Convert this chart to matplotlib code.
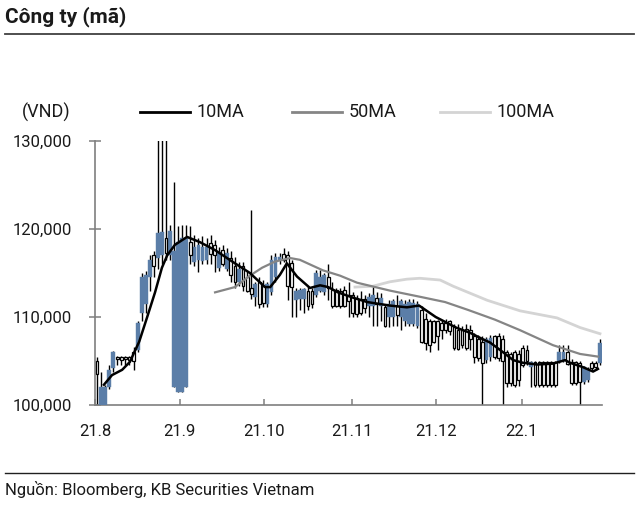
import matplotlib
matplotlib.use("Agg")
import matplotlib.pyplot as plt
from matplotlib.lines import Line2D
from matplotlib.ticker import FuncFormatter
import numpy as np

plt.rcParams['font.family'] = ['Roboto', 'DejaVu Sans']

# ---------------- data (prices in thousand VND) ----------------
opens = [105.0, 100.0, 100.0, 102.0, 104.2, 105.5, 105.4, 105.5, 105.4, 106.0,
         106.3, 110.5, 111.5, 114.5, 117.0, 116.7, 117.0, 119.0, 117.0, 102.0,
         101.5, 101.5, 102.0, 118.5, 116.3, 116.5, 116.4, 116.5, 118.4, 118.2,
         115.6, 117.6, 115.5, 116.7, 115.8, 114.0, 115.8, 114.5, 113.3, 112.3,
         114.0, 113.5, 111.5, 112.8, 114.5, 116.5, 117.2, 117.0, 116.1, 111.9,
         112.0, 112.0, 113.0, 113.0, 112.5, 113.0, 112.8, 114.5, 113.1, 113.1,
         113.0, 113.1, 112.5, 112.5, 112.2, 112.0, 112.0, 111.3, 111.2, 112.2,
         111.2, 111.1, 110.0, 110.0, 111.2, 110.0, 109.5, 109.2, 109.2, 109.0,
         110.8, 109.8, 109.5, 109.5, 109.5, 109.3, 109.3, 109.5, 109.0, 108.5,
         108.5, 108.6, 108.5, 107.8, 107.5, 107.2, 105.1, 105.5, 107.8, 107.8,
         107.5, 106.0, 105.8, 106.0, 105.8, 106.5, 106.3, 104.3, 104.9, 104.9,
         104.9, 104.9, 104.9, 104.9, 104.9, 105.0, 106.0, 104.9, 104.9, 104.8,
         102.6, 102.8, 104.8, 104.8, 104.8]
highs = [105.5, 103.8, 102.3, 104.5, 106.1, 105.6, 105.6, 105.6, 105.6, 106.6,
         109.5, 115.0, 115.2, 117.0, 117.5, 131.0, 131.0, 131.0, 120.5, 125.3,
         120.3, 120.5, 120.5, 120.3, 119.3, 119.0, 119.2, 119.0, 119.3, 118.8,
         118.0, 118.2, 117.8, 117.5, 116.8, 116.2, 116.3, 115.2, 122.2, 114.0,
         114.5, 114.2, 114.0, 117.0, 117.3, 117.3, 117.8, 117.5, 116.5, 113.3,
         113.3, 113.3, 113.5, 113.3, 115.3, 115.3, 115.0, 116.0, 114.0, 113.3,
         113.3, 113.5, 114.0, 112.8, 112.5, 113.0, 112.5, 112.7, 113.5, 112.8,
         112.7, 111.5, 111.9, 112.0, 112.5, 112.0, 111.9, 112.0, 112.0, 111.8,
         111.2, 110.5, 109.8, 109.7, 109.7, 109.7, 109.8, 109.7, 109.2, 109.2,
         109.0, 109.2, 109.1, 108.2, 108.0, 107.8, 107.7, 108.0, 108.0, 108.2,
         108.0, 106.2, 106.0, 106.2, 106.2, 106.8, 106.8, 105.0, 105.0, 105.0,
         105.0, 105.0, 105.0, 105.0, 106.8, 106.8, 106.8, 105.2, 105.0, 105.0,
         104.4, 104.3, 105.0, 105.0, 107.5]
lows = [100.0, 99.8, 99.8, 101.8, 103.8, 104.5, 104.5, 104.6, 104.5, 104.0,
        106.0, 109.5, 110.5, 113.0, 114.5, 115.5, 116.0, 116.5, 116.5, 102.0,
        101.5, 101.5, 102.0, 116.0, 115.8, 115.1, 116.0, 116.0, 116.0, 115.1,
        115.2, 115.8, 115.2, 114.0, 113.3, 113.5, 113.0, 112.8, 112.0, 111.3,
        111.0, 111.1, 111.1, 112.5, 114.0, 116.0, 116.3, 111.9, 110.0, 110.0,
        110.8, 110.5, 110.8, 111.0, 112.3, 112.8, 112.5, 111.9, 111.0, 111.1,
        111.0, 111.1, 110.0, 110.0, 110.0, 110.2, 110.5, 110.0, 109.0, 109.0,
        109.5, 108.9, 108.9, 109.0, 109.0, 108.5, 109.0, 109.0, 109.0, 108.8,
        107.0, 106.2, 106.0, 107.0, 106.2, 107.5, 108.2, 108.0, 106.2, 106.2,
        106.5, 106.2, 106.2, 104.8, 105.0, 99.5, 104.8, 105.0, 105.2, 105.0,
        99.5, 102.0, 102.2, 102.0, 102.2, 104.3, 104.5, 102.0, 102.0, 102.0,
        102.0, 102.0, 102.0, 102.0, 104.8, 104.9, 104.5, 102.3, 102.3, 99.5,
        102.4, 102.6, 104.0, 104.0, 104.5]
closes = [103.5, 102.0, 102.0, 104.0, 106.0, 105.2, 105.1, 105.2, 105.1, 105.0,
          109.3, 114.5, 114.8, 116.5, 115.8, 119.5, 119.7, 117.3, 119.8, 117.5,
          118.5, 119.0, 119.0, 117.0, 118.0, 118.2, 117.9, 118.0, 117.2, 117.0,
          117.4, 116.0, 117.3, 114.8, 114.0, 115.5, 113.5, 113.0, 112.6, 113.8,
          111.5, 111.6, 113.8, 116.5, 116.8, 116.8, 116.5, 113.5, 113.4, 113.0,
          113.1, 113.2, 111.2, 111.5, 115.0, 114.5, 114.8, 113.3, 111.2, 111.2,
          111.2, 111.3, 111.8, 110.5, 110.3, 110.5, 111.0, 112.3, 112.5, 111.5,
          112.2, 109.0, 111.5, 111.8, 110.2, 111.8, 111.5, 111.7, 111.6, 111.5,
          107.2, 107.0, 106.8, 107.2, 107.8, 108.5, 108.5, 108.4, 106.5, 106.4,
          106.8, 106.5, 107.5, 105.5, 105.3, 104.8, 107.5, 107.6, 105.5, 105.3,
          105.0, 102.5, 102.5, 102.3, 102.8, 104.5, 105.0, 104.9, 102.3, 102.3,
          102.3, 102.3, 102.3, 102.3, 106.0, 106.0, 104.7, 102.5, 102.5, 102.6,
          104.3, 104.0, 104.2, 104.3, 107.0]

ma10_day = [1.7, 3.7, 6.2, 8.1, 10.4, 12.3, 14.3, 16.0, 17.3, 19.2, 22.2, 25.4,
            29.1, 34.0, 37.7, 41.4, 42.7, 45.1, 46.8, 49.3, 52.5, 55.0, 57.0,
            59.4, 63.1, 66.6, 72.2, 76.4, 79.4, 83.5, 88.5, 92.0, 95.0, 96.9,
            100.1, 102.6, 105.0, 108.5, 112.4, 115.4, 116.6, 119.8, 122.3, 123.5]
ma10_val = [102.3, 103.4, 104.0, 104.9, 107.2, 109.9, 112.8, 115.6, 117.0,
            118.2, 119.1, 118.5, 117.6, 116.1, 115.0, 113.4, 113.4, 114.8,
            116.1, 114.6, 113.3, 113.6, 113.4, 112.8, 112.2, 111.7, 111.3,
            111.1, 111.3, 110.0, 108.8, 108.2, 107.5, 107.1, 106.0, 105.1,
            104.8, 104.6, 104.7, 105.1, 104.8, 104.3, 103.8, 104.1]

ma50_day = [29.1, 34.0, 37.7, 40.7, 43.9, 47.6, 50.0, 55.7, 59.9, 64.1, 72.2,
            79.6, 85.8, 91.5, 98.1, 104.3, 112.4, 119.1, 123.5]
ma50_val = [112.8, 113.4, 114.7, 115.6, 116.3, 116.7, 116.5, 115.3, 114.7,
            113.9, 113.0, 112.3, 111.7, 110.8, 109.7, 108.5, 106.8, 105.8, 105.5]

ma100_day = [63.6, 68.0, 72.2, 76.4, 79.6, 84.6, 87.8, 96.2, 104.3, 113.4,
             119.1, 124.0]
ma100_val = [113.4, 113.5, 114.0, 114.3, 114.4, 114.2, 113.5, 111.9, 110.7,
             109.9, 108.8, 108.1]

tick_pos = [-0.5, 20.4, 41.1, 62.8, 83.5, 104.7]
tick_labels = ['21.8', '21.9', '21.10', '21.11', '21.12', '22.1']
y_ticks = [100, 110, 120, 130]

BLUE = '#5b7ea8'

# ---------------- figure ----------------
W, H = 640, 505
fig = plt.figure(figsize=(W / 100, H / 100), dpi=100)

def fx(px):
    return px / W

def fy(py):
    return 1 - py / H

ax = fig.add_axes([fx(95), fy(405), fx(602) - fx(95), fy(141) - fy(405)])

o = np.array(opens); h = np.array(highs); l = np.array(lows); c = np.array(closes)
x = np.arange(len(o))
up = c >= o

ax.vlines(x, l, h, color='black', lw=1.0, zorder=2)
bot = np.minimum(o, c)
hgt = np.abs(c - o)
ax.bar(x[up], hgt[up], bottom=bot[up], width=0.95, color=BLUE,
       edgecolor=BLUE, lw=0.3, zorder=3)
ax.bar(x[~up], hgt[~up], bottom=bot[~up], width=0.7, color='white',
       edgecolor='black', lw=0.9, zorder=3)

ax.plot(ma100_day, ma100_val, color='#d4d4d4', lw=2.0, zorder=4)
ax.plot(ma50_day, ma50_val, color='#858585', lw=1.6, zorder=4)
ax.plot(ma10_day, ma10_val, color='black', lw=1.8, zorder=5)

ax.set_xlim(-0.5, 124.5)
ax.set_ylim(100, 130)
ax.set_yticks(y_ticks)
ax.yaxis.set_major_formatter(FuncFormatter(lambda v, p: f"{int(round(v * 1000)):,}"))
ax.set_xticks(tick_pos)
ax.set_xticklabels(tick_labels)

for s in ['top', 'right']:
    ax.spines[s].set_visible(False)
for s in ['left', 'bottom']:
    ax.spines[s].set_color('#7f7f7f')
    ax.spines[s].set_linewidth(1.2)

ax.tick_params(axis='y', direction='inout', length=9, width=1.1, color='#7f7f7f',
               labelsize=12, pad=12, labelcolor='#1a1a1a')
ax.tick_params(axis='x', direction='in', length=4, width=1.1, color='#7f7f7f',
               labelsize=12, pad=14, labelcolor='#1a1a1a')

# title and rules
fig.text(fx(5), fy(17), 'Công ty (mã)', fontsize=15, fontweight='bold',
         ha='left', va='center', color='#1a1a1a')
fig.add_artist(Line2D([fx(5), fx(634)], [fy(34), fy(34)], color='#404040', lw=1.3))
fig.add_artist(Line2D([fx(5), fx(634)], [fy(473), fy(473)], color='#202020', lw=1.0))
fig.text(fx(5), fy(489), 'Nguồn: Bloomberg, KB Securities Vietnam', fontsize=12,
         ha='left', va='center', color='#1a1a1a')

# unit label and legend
fig.text(fx(22), fy(112), '(VND)', fontsize=13, ha='left', va='center', color='#1a1a1a')
legend_items = [('10MA', 'black', 140), ('50MA', '#858585', 292), ('100MA', '#d4d4d4', 440)]
for name, col, x0 in legend_items:
    fig.add_artist(Line2D([fx(x0), fx(x0 + 50)], [fy(112), fy(112)], color=col, lw=2))
    fig.text(fx(x0 + 57), fy(112), name, fontsize=13, ha='left', va='center', color='#1a1a1a')

fig.savefig('out.png', dpi=100)
